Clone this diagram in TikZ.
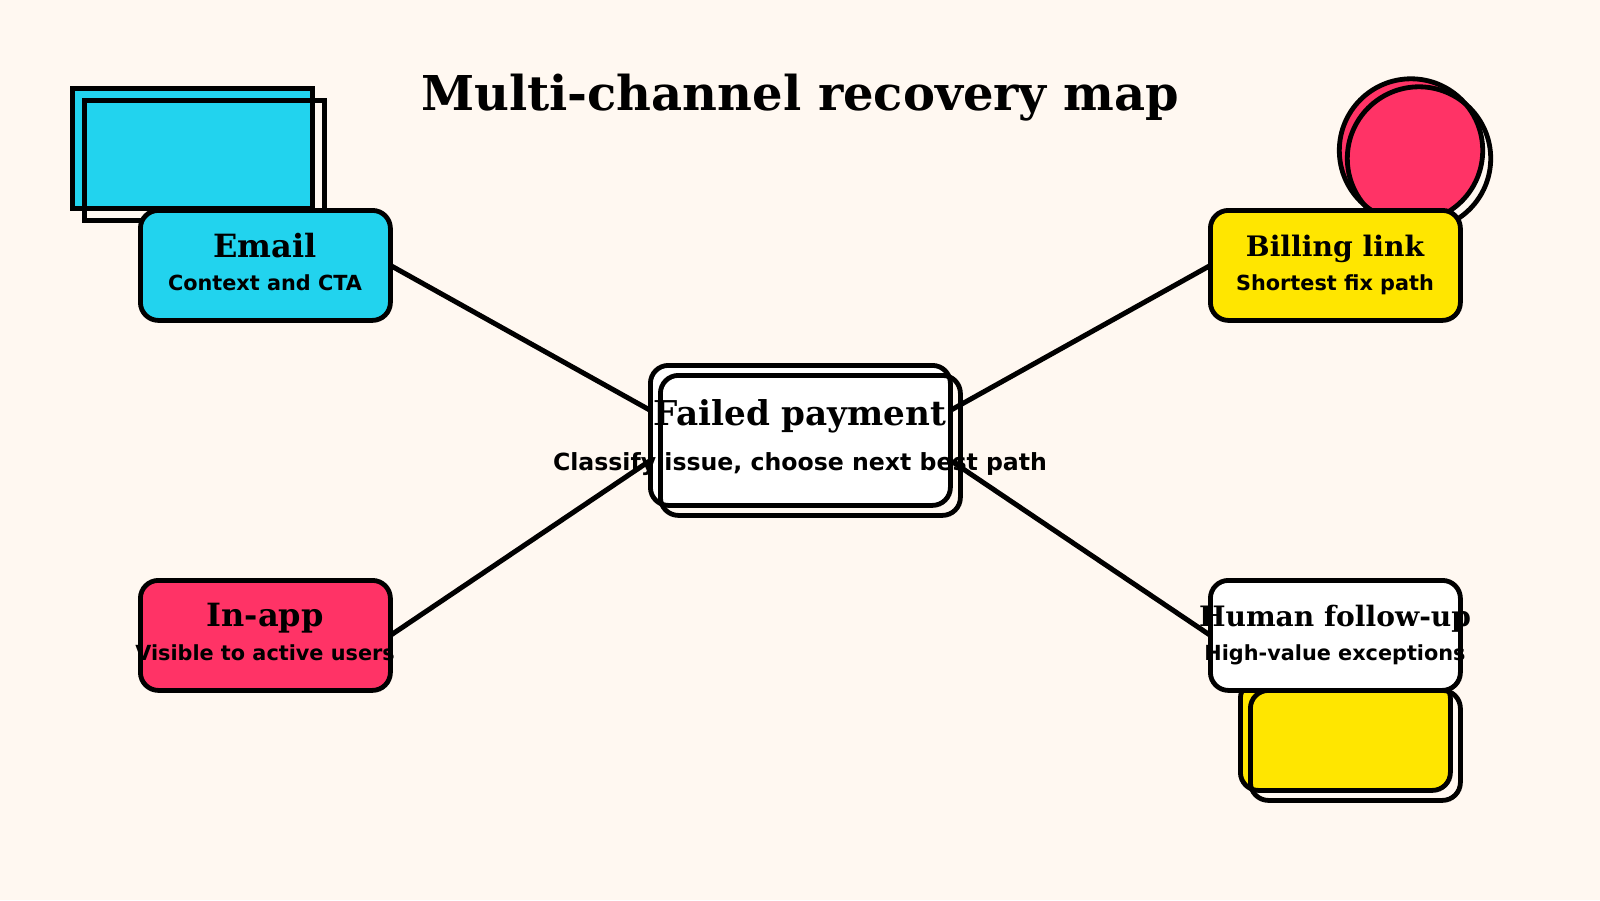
\documentclass[tikz,border=0pt]{standalone}
\usepackage{fontspec}
\usetikzlibrary{backgrounds}
\setmainfont{DejaVu Serif}
\setsansfont{DejaVu Sans}
\definecolor{bgc}{HTML}{FFF8F1}
\definecolor{cy}{HTML}{22D3EE}
\definecolor{pk}{HTML}{FF3366}
\definecolor{yl}{HTML}{FFE600}
\tikzset{
  card/.style={draw=black,line width=4.8pt,rounded corners=18pt,minimum width=250pt,minimum height=110pt,inner sep=0pt,outer sep=0pt,anchor=north west},
  hubcard/.style={card,minimum width=300pt,minimum height=140pt},
  link/.style={draw=black,line width=5pt},
  deco/.style={draw=black,line width=4.8pt},
  headtext/.style={text=black,anchor=base,inner sep=0pt,font=\rmfamily\bfseries\fontsize{#1}{#1}\selectfont},
  subtext/.style={text=black,anchor=base,inner sep=0pt,font=\sffamily\bfseries\fontsize{#1}{#1}\selectfont}
}
\begin{document}
\begin{tikzpicture}[x=1pt,y=-1pt]
\useasboundingbox (0,0) rectangle (1600,900);
% cards
\node[hubcard,fill=white] (hub) at (650.4,365.4) {};
\node[hubcard] (hubshadow) at (660.4,375.4) {};
\node[card,fill=cy] (email) at (140.4,210.4) {};
\node[card,fill=yl] (billing) at (1210.4,210.4) {};
\node[card,fill=pk] (inapp) at (140.4,580.4) {};
\node[card,fill=white] (human) at (1210.4,580.4) {};
\begin{scope}[on background layer]
  \fill[bgc] (0,0) rectangle (1600,900);
  % decorations
  \draw[deco,fill=cy] (72.5,88.5) rectangle (312.5,208.5);
  \draw[deco] (84.5,100.5) rectangle (324.5,220.5);
  \draw[deco,fill=pk] (1411,150.5) circle (71.7);
  \draw[deco] (1419,158.5) circle (71.7);
  \draw[deco,fill=yl,rounded corners=18pt] (1240.4,680.4) rectangle (1450.4,790.4);
  \draw[deco,rounded corners=18pt] (1250.4,690.4) rectangle (1460.4,800.4);
  % connectors
  \draw[link] (email.east) -- ([yshift=25pt]hub.west);
  \draw[link] (billing.west) -- ([yshift=25pt]hub.east);
  \draw[link] (inapp.east) -- ([yshift=-25pt]hub.west);
  \draw[link] (human.west) -- ([yshift=-25pt]hub.east);
\end{scope}
% texts
\node[headtext=48] (title) at (800,110.5) {Multi-channel recovery map};
\node[headtext=34.2] (hubt) at (800,425) {Failed payment};
\node[subtext=23.6] (hubs) at (800,470) {Classify issue, choose next best path};
\node[headtext=32] (emailt) at (265,257) {Email};
\node[subtext=20.8] (emails) at (265,290) {Context and CTA};
\node[headtext=28.2] (billingt) at (1335,256) {Billing link};
\node[subtext=20.8] (billings) at (1335,290) {Shortest fix path};
\node[headtext=32] (inappt) at (265,626) {In-app};
\node[subtext=20.8] (inapps) at (265,660) {Visible to active users};
\node[headtext=28.1] (humant) at (1335,626) {Human follow-up};
\node[subtext=20.8] (humans) at (1335,660) {High-value exceptions};
\end{tikzpicture}
\end{document}
